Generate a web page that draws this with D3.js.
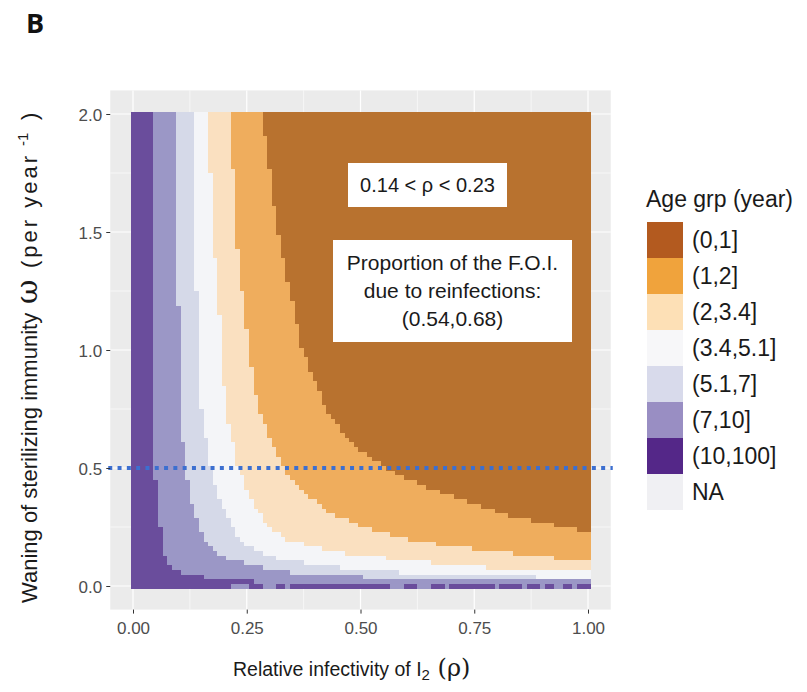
<!DOCTYPE html>
<html lang="en">
<head>
<meta charset="UTF-8" />
<title>Age group by rho and omega</title>
<script src="https://d3js.org/d3.v7.min.js"></script>
<style>
    body { margin: 0; background: #fff; font-family: "Liberation Sans", Arial, sans-serif; }
    svg { display: block; }
    .tick text { fill: #4d4d4d; font-size: 17px; font-family: "Liberation Sans", Arial, sans-serif; }
    .tick line { stroke: #333; }
</style>
</head>
<body>
<script>
// age groups, from youngest (largest rho) to oldest
const ageGroups = ['(0,1]', '(1,2]', '(2,3.4]', '(3.4,5.1]', '(5.1,7]', '(7,10]', '(10,100]', 'NA'];
const tileColors = ['#b8722f', '#efad5d', '#fae0c0', '#f4f5f8', '#d5d9e8', '#9b97c6', '#6a4d9c'];
const legendColors = ['#b35a1f', '#f0a33c', '#fde0b6', '#f7f7f9', '#d8daeb', '#998ec3', '#542788', '#f0f0f3'];

// boundaries: [omega, rho] where the group changes
const cutPurpleLav = [[2.0, 0.045], [0.6, 0.045], [0.5, 0.048], [0.35, 0.055], [0.2, 0.063], [0.12, 0.07], [0.075, 0.09], [0.055, 0.11], [0.04, 0.15], [0.02, 0.26], [0.01, 0.3]];
const cutLavLight = [[2.0, 0.094], [1.5, 0.095], [1.0, 0.103], [0.75, 0.104], [0.5, 0.114], [0.35, 0.129], [0.2, 0.155], [0.12, 0.2], [0.075, 0.3], [0.055, 0.36], [0.04, 0.5], [0.03, 0.75], [0.02, 1.05]];
const cutLightWhite = [[2.0, 0.132], [1.5, 0.136], [1.0, 0.144], [0.75, 0.15], [0.5, 0.17], [0.35, 0.194], [0.2, 0.231], [0.15, 0.27], [0.12, 0.31], [0.1, 0.37], [0.075, 0.48], [0.06, 0.58], [0.05, 0.7], [0.04, 0.88], [0.035, 1.05]];
const cutWhitePeach = [[2.0, 0.165], [1.5, 0.175], [1.0, 0.196], [0.75, 0.203], [0.5, 0.232], [0.35, 0.265], [0.25, 0.3], [0.2, 0.334], [0.15, 0.43], [0.125, 0.53], [0.1, 0.65], [0.08, 0.77], [0.06, 1.0], [0.055, 1.05]];
const cutPeachOrange = [[2.0, 0.215], [1.5, 0.226], [1.0, 0.255], [0.75, 0.275], [0.5, 0.33], [0.4, 0.37], [0.3, 0.445], [0.25, 0.51], [0.2, 0.6], [0.16, 0.74], [0.13, 0.88], [0.105, 1.0], [0.1, 1.05]];
const cutOrangeBrown = [[2.0, 0.284], [1.5, 0.318], [1.0, 0.372], [0.75, 0.425], [0.6, 0.48], [0.5, 0.555], [0.45, 0.61], [0.4, 0.675], [0.35, 0.75], [0.3, 0.83], [0.26, 0.92], [0.23, 1.0], [0.22, 1.05]];

// omega = 0 row: rho stretches that are (10,100], the rest is (7,10]
const zeroRowPurple = [[0, 0.21], [0.26, 0.28], [0.32, 0.33], [0.35, 0.4], [0.41, 0.54], [0.55, 0.56], [0.6, 0.62], [0.66, 0.68], [0.7, 0.72], [0.73, 0.79], [0.81, 0.85], [0.87, 0.89], [0.91, 0.92], [0.95, 0.96], [0.98, 1.0]];

const xTicks = [0, 0.25, 0.5, 0.75, 1];
const yTicks = [0, 0.5, 1, 1.5, 2];
const rhoStep = 0.01, omegaStep = 0.02;

const width = 807, height = 692;
const svg = d3.select('body').append('svg').attr('width', width).attr('height', height);

const x = d3.scaleLinear().domain([-0.05, 1.05]).range([110.25, 610.75]);
const y = d3.scaleLinear().domain([-0.1, 2.1]).range([609.6, 90.4]);

// panel
svg.append('rect').attr('x', x(-0.05)).attr('y', y(2.1))
    .attr('width', x(1.05) - x(-0.05)).attr('height', y(-0.1) - y(2.1)).attr('fill', '#ebebeb');

const grid = svg.append('g');
[0.125, 0.375, 0.625, 0.875].forEach(v => grid.append('line').attr('x1', x(v)).attr('x2', x(v))
    .attr('y1', y(2.1)).attr('y2', y(-0.1)).attr('stroke', '#fff').attr('stroke-width', 0.6));
[0.25, 0.75, 1.25, 1.75].forEach(v => grid.append('line').attr('y1', y(v)).attr('y2', y(v))
    .attr('x1', x(-0.05)).attr('x2', x(1.05)).attr('stroke', '#fff').attr('stroke-width', 0.6));
xTicks.forEach(v => grid.append('line').attr('x1', x(v)).attr('x2', x(v))
    .attr('y1', y(2.1)).attr('y2', y(-0.1)).attr('stroke', '#fff').attr('stroke-width', 1.2));
yTicks.forEach(v => grid.append('line').attr('y1', y(v)).attr('y2', y(v))
    .attr('x1', x(-0.05)).attr('x2', x(1.05)).attr('stroke', '#fff').attr('stroke-width', 1.2));

// boundary scales
const cutScales = [cutPurpleLav, cutLavLight, cutLightWhite, cutWhitePeach, cutPeachOrange, cutOrangeBrown]
    .map(c => d3.scaleLinear().domain(c.map(d => d[0])).range(c.map(d => d[1])).clamp(true));

function groupOf(rho, omega) {
    if (omega < omegaStep / 2) {
        return zeroRowPurple.some(r => rho >= r[0] - 1e-9 && rho <= r[1] + 1e-9) ? 6 : 5;
    }
    let n = 0;
    cutScales.forEach(s => { if (rho > s(omega)) n++; });
    return 6 - n;
}

const cells = [];
d3.range(0, 101).forEach(i => {
    d3.range(0, 101).forEach(j => {
        const rho = i * rhoStep, omega = j * omegaStep;
        cells.push({ rho, omega, g: groupOf(rho, omega) });
    });
});

const cw = x(rhoStep) - x(0), ch = y(0) - y(omegaStep);
svg.append('g').attr('shape-rendering', 'crispEdges')
    .selectAll('rect').data(cells).join('rect')
    .attr('x', d => x(d.rho) - cw / 2)
    .attr('y', d => y(d.omega) - ch / 2)
    .attr('width', cw + 0.4)
    .attr('height', ch + 0.4)
    .attr('fill', d => tileColors[d.g]);

// dotted reference line at omega = 0.5
svg.append('line').attr('x1', x(-0.05) - 2).attr('x2', x(1.05) + 2)
    .attr('y1', y(0.5)).attr('y2', y(0.5))
    .attr('stroke', '#3c6fd0').attr('stroke-width', 4).attr('stroke-dasharray', '4 5.3');

// annotations
const note = svg.append('g').attr('fill', '#1a1a1a').attr('text-anchor', 'middle');
note.append('rect').attr('x', 348).attr('y', 163).attr('width', 159).attr('height', 44).attr('fill', '#fff');
note.append('text').attr('x', 427.5).attr('y', 192).attr('font-size', 20).text('0.14 < ρ < 0.23');
note.append('rect').attr('x', 333).attr('y', 240).attr('width', 239).attr('height', 102).attr('fill', '#fff');
['Proportion of the F.O.I.', 'due to reinfections:', '(0.54,0.68)'].forEach((t, i) =>
    note.append('text').attr('x', 452.5).attr('y', 270 + i * 28).attr('font-size', 21).text(t));

// axes
const xAxis = svg.append('g').attr('transform', `translate(0,${y(-0.1)})`)
    .call(d3.axisBottom(x).tickValues(xTicks).tickFormat(d3.format('.2f')).tickSize(4).tickPadding(8));
const yAxis = svg.append('g').attr('transform', `translate(${x(-0.05)},0)`)
    .call(d3.axisLeft(y).tickValues(yTicks).tickFormat(d3.format('.1f')).tickSize(4).tickPadding(4));
xAxis.select('.domain').remove();
yAxis.select('.domain').remove();
yAxis.selectAll('.tick text').attr('dy', '0.36em');

// axis titles
const xt = svg.append('text').attr('x', 233).attr('y', 676)
    .attr('font-size', 19.5).attr('fill', '#1a1a1a');
xt.append('tspan').text('Relative infectivity of I');
xt.append('tspan').attr('font-size', 15).attr('dy', 4).text('2');
xt.append('tspan').attr('dy', -4).attr('font-size', 24).attr('font-family', 'DejaVu Serif, serif').text(' (ρ)');

const yt = svg.append('g').attr('transform', 'translate(37,0) rotate(-90)')
    .attr('font-size', 22).attr('fill', '#1a1a1a');
yt.append('text').attr('x', -603).attr('y', 0).text('Waning of sterilizing immunity');
yt.append('text').attr('x', -304).attr('y', 0).attr('font-size', 30)
    .attr('font-family', 'DejaVu Serif, serif').text('ω');
yt.append('text').attr('x', -268).attr('y', 0).attr('textLength', 112).attr('lengthAdjust', 'spacing').text('(per year');
yt.append('text').attr('x', -146).attr('y', -9).attr('font-size', 15).text('-1');
yt.append('text').attr('x', -120).attr('y', 0).text(')');

// legend
const lg = svg.append('g').attr('transform', 'translate(647,0)');
lg.append('text').attr('x', -1).attr('y', 207).attr('font-size', 23).attr('fill', '#1a1a1a').text('Age grp (year)');
ageGroups.forEach((g, i) => {
    lg.append('rect').attr('x', 0).attr('y', 222 + i * 36).attr('width', 36).attr('height', 36)
        .attr('fill', legendColors[i]);
    lg.append('text').attr('x', 45).attr('y', 222 + i * 36 + 18).attr('dy', '0.36em')
        .attr('font-size', 23).attr('fill', '#1a1a1a').text(g);
});

// panel tag
svg.append('text').attr('x', 26).attr('y', 33).attr('font-size', 27).attr('font-weight', 'bold')
    .attr('font-family', '"Open Sans", sans-serif').attr('fill', '#111').text('B');
</script>
</body>
</html>
